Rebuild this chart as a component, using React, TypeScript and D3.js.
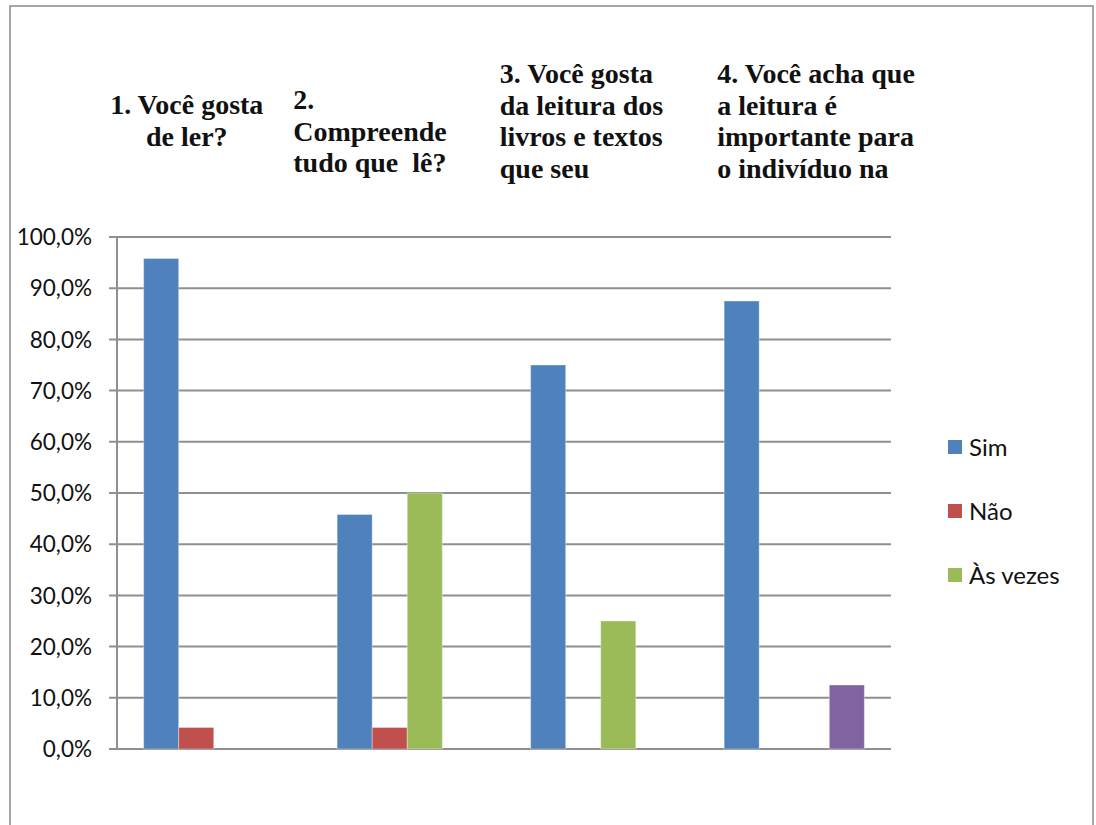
import { scaleBand, scaleLinear, formatLocale, range } from "d3"

// visible (clipped) category labels, one list of lines per question
const categoryLines = [
  ["1. Você gosta", "de ler?"],
  ["2.", "Compreende", "tudo que  lê?"],
  ["3. Você gosta", "da leitura dos", "livros e textos", "que seu"],
  ["4. Você acha que", "a leitura é", "importante para", "o indivíduo na"],
]
const categories = ["q1", "q2", "q3", "q4"]

const seriesNames = ["Sim", "Não", "Às vezes", ""]
const sim = [0.958, 0.458, 0.75, 0.875]
const nao = [0.042, 0.042, 0, 0]
const asVezes = [0, 0.5, 0.25, 0]
const semNome = [0, 0, 0, 0.125]
const yTicks = range(0, 1.0001, 0.1)

const seriesValues = [sim, nao, asVezes, semNome]
const colors = ["#4F81BD", "#C0504D", "#9BBB59", "#8064A2"]

// label block placement (Excel put these oddly, so kept by hand)
const labelLayout = [
  { dx: -27, anchor: "middle", top: 114 },
  { dx: -114, anchor: "start", top: 109 },
  { dx: -101, anchor: "start", top: 83 },
  { dx: -77, anchor: "start", top: 83 },
]

const ptBR = formatLocale({ decimal: ",", thousands: ".", grouping: [3], currency: ["R$", ""] })
const fmt = ptBR.format(".1%")

const sans = "Lato, 'Open Sans', sans-serif"
const serif = "\"Liberation Serif\", Tinos, \"Times New Roman\", \"DejaVu Serif\", serif"

export default function App() {
  const W = 1096
  const H = 825
  const plot = { left: 117, right: 891, top: 237, bottom: 749 }

  const x0 = scaleBand().domain(categories).range([plot.left, plot.right]).padding(0)
  const x1 = scaleBand()
    .domain(seriesNames.map((_, i) => String(i)))
    .range([0, x0.bandwidth()])
    .paddingInner(0)
    .paddingOuter(0.76)
  const y = scaleLinear().domain([0, 1]).range([plot.bottom, plot.top])

  const grid = "#8f8f8f"

  return (
    <svg width={W} height={H} style={{ position: "absolute", left: 0, top: 0, background: "#fff" }}>
      <rect x={10} y={6} width={1083} height={840} fill="#fff" stroke="#8a8a8a" strokeWidth={1.5} />

      {/* gridlines + ticks */}
      {yTicks.map((t) => (
        <g key={t}>
          <line x1={plot.left - 8} x2={plot.right} y1={y(t)} y2={y(t)} stroke={grid} strokeWidth={2} />
          <text x={92} y={y(t)} dy="0.36em" textAnchor="end" style={{ fontFamily: sans, fontSize: 22.5 }} fill="#111">
            {fmt(t)}
          </text>
        </g>
      ))}
      <line x1={plot.left} x2={plot.left} y1={plot.top} y2={plot.bottom} stroke={grid} strokeWidth={2} />

      {/* bars */}
      {categories.map((c, ci) => (
        <g key={c} transform={`translate(${x0(c)},0)`}>
          {seriesValues.map((vals, si) =>
            vals[ci] > 0 ? (
              <rect
                key={si}
                x={x1(String(si))}
                y={y(vals[ci])}
                width={x1.bandwidth()}
                height={plot.bottom - y(vals[ci])}
                fill={colors[si]}
                stroke="rgba(255,255,255,0.35)"
                strokeWidth={1}
              />
            ) : null
          )}
        </g>
      ))}

      {/* category labels on top */}
      {categories.map((c, ci) => {
        const lay = labelLayout[ci]
        const cx = (x0(c) ?? 0) + x0.bandwidth() / 2 + lay.dx
        return (
          <text
            key={c}
            fill="#111"
            textAnchor={lay.anchor}
            style={{ whiteSpace: "pre", fontFamily: serif, fontWeight: 700, fontSize: 28 }}
          >
            {categoryLines[ci].map((ln, li) => (
              <tspan key={li} x={cx} y={lay.top + li * 31.5}>
                {ln}
              </tspan>
            ))}
          </text>
        )
      })}

      {/* legend */}
      {seriesNames.slice(0, 3).map((name, i) => (
        <g key={name} transform={`translate(948, ${447 + i * 64})`}>
          <rect x={0} y={-7} width={14} height={14} fill={colors[i]} />
          <text x={21} y={0} dy="0.36em" style={{ fontFamily: sans, fontSize: 24 }} fill="#111">
            {name}
          </text>
        </g>
      ))}
    </svg>
  )
}
